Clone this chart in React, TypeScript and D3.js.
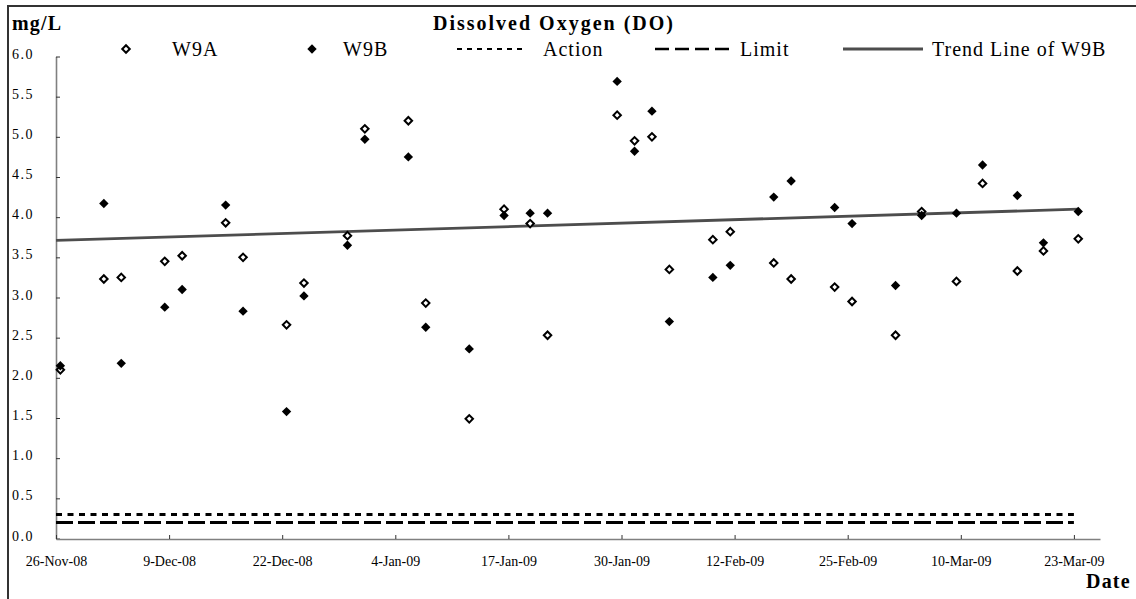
import React, { useEffect, useRef } from "react";
import * as d3 from "d3";

// sampling dates and DO readings (mg/L)
const sampleDates = [
  "2008-11-26", "2008-12-01", "2008-12-03", "2008-12-08", "2008-12-10",
  "2008-12-15", "2008-12-17", "2008-12-22", "2008-12-24", "2008-12-29",
  "2008-12-31", "2009-01-05", "2009-01-07", "2009-01-12", "2009-01-16",
  "2009-01-19", "2009-01-21", "2009-01-29", "2009-01-31", "2009-02-02",
  "2009-02-04", "2009-02-09", "2009-02-11", "2009-02-16", "2009-02-18",
  "2009-02-23", "2009-02-25", "2009-03-02", "2009-03-05", "2009-03-09",
  "2009-03-12", "2009-03-16", "2009-03-19", "2009-03-23",
];
const w9a = [
  2.10, 3.23, 3.25, 3.45, 3.52, 3.93, 3.50, 2.66, 3.18, 3.77,
  5.10, 5.20, 2.93, 1.49, 4.10, 3.92, 2.53, 5.27, 4.95, 5.00,
  3.35, 3.72, 3.82, 3.43, 3.23, 3.13, 2.95, 2.53, 4.07, 3.20,
  4.42, 3.33, 3.58, 3.73,
];
const w9b = [
  2.15, 4.17, 2.18, 2.88, 3.10, 4.15, 2.83, 1.58, 3.02, 3.65,
  4.97, 4.75, 2.63, 2.36, 4.02, 4.05, 4.05, 5.69, 4.82, 5.32,
  2.70, 3.25, 3.40, 4.25, 4.45, 4.12, 3.92, 3.15, 4.02, 4.05,
  4.65, 4.27, 3.68, 4.07,
];
const actionLevel = 0.3;
const limitLevel = 0.2;
const trendDates = ["2008-11-26", "2009-03-23"];
const trendValues = [3.71, 4.1];
const axisDomain = ["2008-11-26", "2009-03-26"];
const xTickDates = [
  "2008-11-26", "2008-12-09", "2008-12-22", "2009-01-04", "2009-01-17",
  "2009-01-30", "2009-02-12", "2009-02-25", "2009-03-10", "2009-03-23",
];
const yTicks = [0, 0.5, 1, 1.5, 2, 2.5, 3, 3.5, 4, 4.5, 5, 5.5, 6];
const legendNames = ["W9A", "W9B", "Action", "Limit", "Trend Line of W9B"];

const FONT = "'Liberation Serif', 'Times New Roman', serif";

export default function App() {
  const svgRef = useRef<SVGSVGElement>(null);

  useEffect(() => {
    const svg = d3.select(svgRef.current);
    svg.selectAll("*").remove();

    const parse = d3.utcParse("%Y-%m-%d");
    const x = d3.scaleUtc()
      .domain(axisDomain.map((d) => parse(d)!))
      .range([56, 1100]);
    const y = d3.scaleLinear().domain([0, 6]).range([538.5, 56.5]);
    // points sit in the middle of their day (Excel "between tick marks")
    const halfDay = (x(parse("2008-11-27")!) - x(parse("2008-11-26")!)) / 2;
    const px = (d: string) => x(parse(d)!) + halfDay;

    // outer frame (left + top edges visible)
    svg.append("path")
      .attr("d", "M8,600V6H1137")
      .attr("fill", "none")
      .attr("stroke", "#333")
      .attr("stroke-width", 2);

    // title + unit
    svg.append("text")
      .attr("x", 433).attr("y", 30)
      .attr("font-family", FONT).attr("font-size", 20).attr("font-weight", "bold")
      .attr("letter-spacing", 2)
      .text("Dissolved Oxygen (DO)");
    svg.append("text")
      .attr("x", 12).attr("y", 30)
      .attr("font-family", FONT).attr("font-size", 20).attr("font-weight", "bold")
      .attr("letter-spacing", 1.2)
      .text("mg/L");
    svg.append("text")
      .attr("x", 1086).attr("y", 588)
      .attr("font-family", FONT).attr("font-size", 20).attr("font-weight", "bold")
      .attr("letter-spacing", 1.2)
      .text("Date");

    // y axis
    const yAxis = d3.axisLeft(y)
      .tickValues(yTicks)
      .tickSizeInner(-4)
      .tickSizeOuter(0)
      .tickFormat(d3.format(".1f"));
    const yg = svg.append("g").attr("transform", "translate(56,0)").call(yAxis);
    yg.select(".domain").attr("stroke", "#808080").attr("stroke-width", 1.6);
    yg.selectAll(".tick line").attr("stroke", "#333");
    yg.selectAll(".tick text")
      .attr("x", 12 - 56).attr("dy", null).attr("y", 1.5)
      .attr("text-anchor", "start")
      .attr("fill", "#000")
      .attr("font-family", FONT).attr("font-size", 14).attr("letter-spacing", 1.5);

    // x axis
    const xAxis = d3.axisBottom(x)
      .tickValues(xTickDates.map((d) => parse(d)!))
      .tickSizeInner(-4)
      .tickSizeOuter(0)
      .tickFormat((d) => d3.utcFormat("%-d-%b-%y")(d as Date));
    const xg = svg.append("g").attr("transform", "translate(0,539)").call(xAxis);
    xg.select(".domain").attr("stroke", "#808080").attr("stroke-width", 1.6);
    xg.selectAll(".tick line").attr("stroke", "#333");
    xg.selectAll(".tick text")
      .attr("dy", null).attr("y", 27)
      .attr("fill", "#000")
      .attr("font-family", FONT).attr("font-size", 14);

    // action / limit levels
    const levelX = [x(parse(sampleDates[0])!), x(parse(sampleDates[sampleDates.length - 1])!)];
    svg.append("path")
      .attr("d", d3.line()([[levelX[0], y(actionLevel)], [levelX[1], y(actionLevel)]]))
      .attr("stroke", "#000").attr("stroke-width", 3)
      .attr("stroke-dasharray", "6,5.5");
    svg.append("path")
      .attr("d", d3.line()([[levelX[0], y(limitLevel)], [levelX[1], y(limitLevel)]]))
      .attr("stroke", "#000").attr("stroke-width", 3)
      .attr("stroke-dasharray", "17,5");

    // trend line of W9B
    const trend = d3.line<number>()
      .x((_, i) => (i === 0 ? x(parse(trendDates[i])!) : px(trendDates[i])))
      .y((d) => y(d));
    svg.append("path")
      .attr("d", trend(trendValues))
      .attr("fill", "none")
      .attr("stroke", "#4d4d4d")
      .attr("stroke-width", 2.8);

    const openDiamond = d3.symbol(d3.symbolSquare, 28)();
    const filledDiamond = d3.symbol(d3.symbolSquare, 44)();

    // W9A open diamonds
    svg.append("g").selectAll("path")
      .data(w9a)
      .enter()
      .append("path")
      .attr("d", openDiamond)
      .attr("transform", (d, i) => `translate(${px(sampleDates[i])},${y(d)}) rotate(45)`)
      .attr("fill", "#fff")
      .attr("stroke", "#000")
      .attr("stroke-width", 2);

    // W9B filled diamonds
    svg.append("g").selectAll("path")
      .data(w9b)
      .enter()
      .append("path")
      .attr("d", filledDiamond)
      .attr("transform", (d, i) => `translate(${px(sampleDates[i])},${y(d)}) rotate(45)`)
      .attr("fill", "#000");

    // legend
    const lg = svg.append("g");
    const ly = 49;
    lg.append("path").attr("d", openDiamond)
      .attr("transform", `translate(126,${ly}) rotate(45)`)
      .attr("fill", "#fff").attr("stroke", "#000").attr("stroke-width", 2);
    lg.append("path").attr("d", filledDiamond)
      .attr("transform", `translate(312,${ly}) rotate(45)`)
      .attr("fill", "#000");
    lg.append("line").attr("x1", 457).attr("x2", 527).attr("y1", ly).attr("y2", ly)
      .attr("stroke", "#000").attr("stroke-width", 2).attr("stroke-dasharray", "5,5");
    lg.append("line").attr("x1", 655).attr("x2", 735).attr("y1", ly).attr("y2", ly)
      .attr("stroke", "#000").attr("stroke-width", 2.5).attr("stroke-dasharray", "14,6");
    lg.append("line").attr("x1", 843).attr("x2", 923).attr("y1", ly).attr("y2", ly)
      .attr("stroke", "#4d4d4d").attr("stroke-width", 2.8);
    const textX = [172, 343, 543, 740, 932];
    lg.selectAll("text")
      .data(legendNames)
      .enter()
      .append("text")
      .attr("x", (_, i) => textX[i])
      .attr("y", 55.5)
      .attr("font-family", FONT)
      .attr("font-size", 20)
      .attr("letter-spacing", 1)
      .text((d) => d);
  }, []);

  return (
    <svg
      ref={svgRef}
      width={1136}
      height={599}
      style={{ position: "absolute", left: 0, top: 0, background: "#fff" }}
    />
  );
}
